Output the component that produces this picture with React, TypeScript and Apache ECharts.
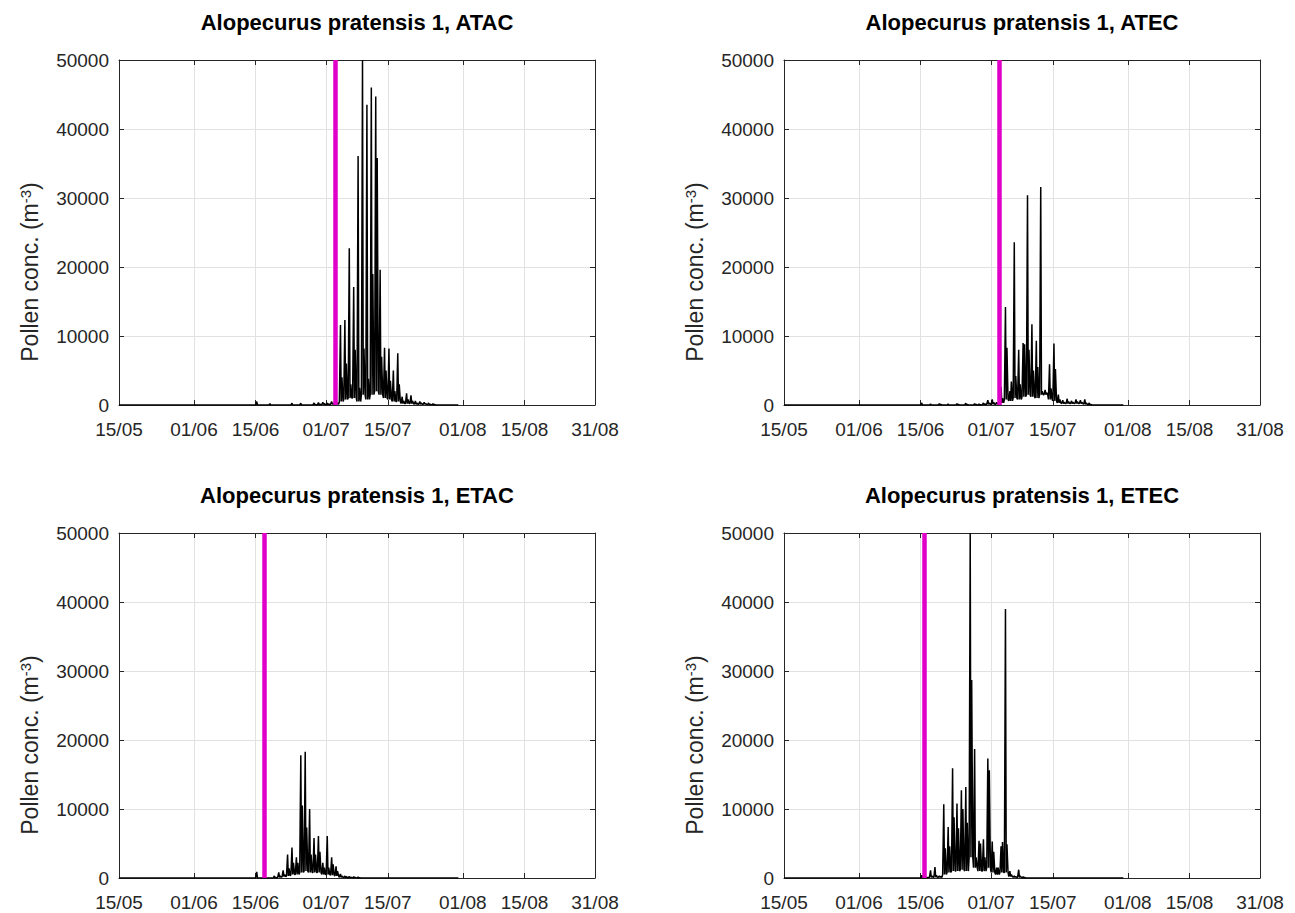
import React, { useEffect, useRef } from "react";
import * as echarts from "echarts";

const YEAR = 2019;
const X_START = "05-15";
const X_END = "08-31";
const xTickDates = ["05-15", "06-01", "06-15", "07-01", "07-15", "08-01", "08-15", "08-31"];
const Y_MAX = 50000;
const Y_STEP = 10000;

const panelTitles = [
  "Alopecurus pratensis 1, ATAC",
  "Alopecurus pratensis 1, ATEC",
  "Alopecurus pratensis 1, ETAC",
  "Alopecurus pratensis 1, ETEC",
];

// ATAC (top-left): day, main daily peak, secondary peak, trough
const atacDays = ["06-15", "06-18", "06-23", "06-25", "06-28", "06-29", "06-30", "07-01", "07-02", "07-03", "07-04", "07-05", "07-06", "07-07", "07-08", "07-09", "07-10", "07-11", "07-12", "07-13", "07-14", "07-15", "07-16", "07-17", "07-18", "07-19", "07-20", "07-21", "07-22", "07-23", "07-24", "07-25"];
const atacPeak = [500, 200, 250, 250, 300, 350, 400, 300, 500, 600, 11600, 12300, 22700, 17100, 36100, 50000, 43500, 46000, 44700, 19600, 8300, 8200, 5000, 7500, 1200, 1700, 1400, 600, 500, 400, 300, 200];
const atacSecond = [0, 0, 0, 0, 100, 150, 200, 150, 200, 300, 4000, 6000, 3000, 8000, 2500, 8200, 3800, 19000, 35800, 7000, 5000, 3500, 2000, 3000, 600, 800, 600, 300, 300, 200, 100, 100];
const atacLow = [0, 0, 0, 0, 0, 0, 50, 50, 100, 100, 500, 800, 1000, 1000, 500, 1500, 800, 1500, 2000, 1500, 1000, 800, 500, 500, 200, 200, 200, 100, 100, 100, 50, 0];

// ATEC (top-right)
const atecDays = ["06-15", "06-17", "06-19", "06-21", "06-23", "06-25", "06-27", "06-28", "06-29", "06-30", "07-01", "07-02", "07-03", "07-04", "07-05", "07-06", "07-07", "07-08", "07-09", "07-10", "07-11", "07-12", "07-13", "07-14", "07-15", "07-16", "07-17", "07-18", "07-19", "07-20", "07-21", "07-22", "07-23"];
const atecPeak = [300, 150, 200, 150, 200, 250, 200, 150, 300, 700, 800, 400, 2650, 14200, 2000, 23600, 8000, 9000, 30400, 11700, 9300, 31600, 2200, 5900, 8900, 1500, 700, 900, 600, 800, 700, 800, 300];
const atecSecond = [0, 0, 100, 0, 100, 100, 100, 50, 150, 300, 400, 200, 1000, 8300, 3400, 4200, 3000, 8800, 8000, 5000, 5500, 2000, 1800, 2400, 5200, 800, 400, 500, 400, 500, 400, 300, 100];
const atecLow = [0, 0, 0, 0, 0, 0, 0, 0, 50, 100, 100, 100, 300, 800, 600, 1000, 800, 1200, 1500, 1200, 1000, 1500, 1500, 800, 600, 300, 200, 200, 200, 200, 200, 100, 0];

// ETAC (bottom-left)
const etacDays = ["06-15", "06-19", "06-20", "06-21", "06-22", "06-23", "06-24", "06-25", "06-26", "06-27", "06-28", "06-29", "06-30", "07-01", "07-02", "07-03", "07-04", "07-05", "07-06", "07-07", "07-08"];
const etacPeak = [900, 300, 800, 1100, 3400, 4400, 3000, 17800, 18300, 10000, 5800, 6100, 2200, 6100, 3000, 1700, 600, 300, 200, 200, 150];
const etacSecond = [0, 100, 300, 500, 1400, 2200, 2200, 10500, 7300, 3400, 3400, 3800, 1500, 1500, 2000, 1000, 300, 200, 100, 100, 50];
const etacLow = [0, 0, 100, 200, 300, 500, 500, 800, 1000, 800, 800, 800, 500, 500, 400, 300, 100, 50, 50, 0, 0];

// ETEC (bottom-right)
const etecDays = ["06-15", "06-17", "06-18", "06-19", "06-20", "06-21", "06-22", "06-23", "06-24", "06-25", "06-26", "06-27", "06-28", "06-29", "06-30", "07-01", "07-02", "07-03", "07-04", "07-05", "07-06", "07-07", "07-08"];
const etecPeak = [400, 1100, 1600, 300, 10700, 7400, 15900, 10800, 12700, 13200, 50000, 18700, 5400, 5600, 17300, 5300, 1500, 4600, 39000, 1000, 300, 1200, 200];
const etecSecond = [0, 300, 400, 200, 4300, 4600, 8800, 7200, 10000, 8000, 28700, 3000, 5000, 3000, 15600, 3800, 1500, 5200, 4900, 500, 200, 300, 100];
const etecLow = [0, 100, 100, 100, 500, 800, 1000, 1000, 1200, 1000, 3000, 1500, 1000, 1000, 1500, 800, 500, 800, 800, 200, 100, 100, 0];

const seriesEndDates = ["07-31", "07-31", "07-31", "07-31"];

// magenta onset marker for each panel (date, hour)
const onsetDates = ["07-03", "07-02", "06-17", "06-15"];
const onsetHours = [0, 21, 0, 19];

const gridLefts = [119, 784, 119, 784];
const gridTops = [60, 60, 533, 533];
const GRID_W = 476;
const GRID_H = 345;

const FONT = "'Liberation Sans', Arial, Helvetica, sans-serif";
const AXIS_COLOR = "#262626";
const GRID_COLOR = "#e2e2e2";
const ONSET_COLOR = "#e100c8";

function ts(md: string, h = 0): number {
  const [m, d] = md.split("-").map(Number);
  return Date.UTC(YEAR, m - 1, d, h);
}

function fmtDate(v: number): string {
  const dt = new Date(v);
  const dd = String(dt.getUTCDate()).padStart(2, "0");
  const mm = String(dt.getUTCMonth() + 1).padStart(2, "0");
  return dd + "/" + mm;
}

function buildPoints(days: string[], peak: number[], second: number[], low: number[], end: string) {
  const pts: [number, number][] = [[ts(X_START), 0]];
  days.forEach((d, i) => {
    pts.push([ts(d, 0), low[i]]);
    pts.push([ts(d, 6), peak[i]]);
    pts.push([ts(d, 10), low[i]]);
    pts.push([ts(d, 14), second[i]]);
    pts.push([ts(d, 20), low[i]]);
  });
  pts.push([ts(end), 0]);
  return pts;
}

const panelData = [
  buildPoints(atacDays, atacPeak, atacSecond, atacLow, seriesEndDates[0]),
  buildPoints(atecDays, atecPeak, atecSecond, atecLow, seriesEndDates[1]),
  buildPoints(etacDays, etacPeak, etacSecond, etacLow, seriesEndDates[2]),
  buildPoints(etecDays, etecPeak, etecSecond, etecLow, seriesEndDates[3]),
];

export default function App() {
  const ref = useRef<HTMLDivElement>(null);
  useEffect(() => {
    if (!ref.current) return;
    const chart = echarts.init(ref.current, undefined, { renderer: "svg" });
    const xMin = ts(X_START);
    const xMax = ts(X_END);
    const tickVals = xTickDates.map((d) => ts(d));

    const grids: any[] = [];
    const xAxes: any[] = [];
    const yAxes: any[] = [];
    const series: any[] = [];
    const graphics: any[] = [];

    for (let i = 0; i < 4; i++) {
      grids.push({ left: gridLefts[i], top: gridTops[i], width: GRID_W, height: GRID_H, containLabel: false });
      xAxes.push({
        type: "value",
        gridIndex: i,
        position: "bottom",
        min: xMin,
        max: xMax,
        axisLine: { show: true, onZero: false, lineStyle: { color: AXIS_COLOR, width: 1 } },
        axisTick: { show: true, inside: true, length: 5, customValues: tickVals, lineStyle: { color: AXIS_COLOR } },
        axisLabel: {
          show: true,
          customValues: tickVals,
          formatter: (v: number) => fmtDate(v),
          fontFamily: FONT,
          fontSize: 19,
          color: AXIS_COLOR,
          margin: 15,
          showMinLabel: true,
          showMaxLabel: true,
          hideOverlap: false,
        },
        splitLine: { show: true, lineStyle: { color: GRID_COLOR, width: 1 } },
      });
      xAxes.push({
        type: "value",
        gridIndex: i,
        position: "top",
        min: xMin,
        max: xMax,
        axisLine: { show: true, onZero: false, lineStyle: { color: AXIS_COLOR, width: 1 } },
        axisTick: { show: true, inside: true, length: 5, customValues: tickVals, lineStyle: { color: AXIS_COLOR } },
        axisLabel: { show: false },
        splitLine: { show: false },
      });
      yAxes.push({
        type: "value",
        gridIndex: i,
        position: "left",
        min: 0,
        max: Y_MAX,
        interval: Y_STEP,
        axisLine: { show: true, onZero: false, lineStyle: { color: AXIS_COLOR, width: 1 } },
        axisTick: { show: true, inside: true, length: 5, lineStyle: { color: AXIS_COLOR } },
        axisLabel: {
          fontFamily: FONT,
          fontSize: 19,
          color: AXIS_COLOR,
          margin: 10,
          formatter: (v: number) => String(v),
        },
        splitLine: { show: true, lineStyle: { color: GRID_COLOR, width: 1 } },
      });
      yAxes.push({
        type: "value",
        gridIndex: i,
        position: "right",
        min: 0,
        max: Y_MAX,
        interval: Y_STEP,
        axisLine: { show: true, onZero: false, lineStyle: { color: AXIS_COLOR, width: 1 } },
        axisTick: { show: true, inside: true, length: 5, lineStyle: { color: AXIS_COLOR } },
        axisLabel: { show: false },
        splitLine: { show: false },
      });

      series.push({
        type: "line",
        xAxisIndex: i * 2,
        yAxisIndex: i * 2,
        data: panelData[i],
        showSymbol: false,
        symbol: "none",
        clip: true,
        lineStyle: { color: "#000000", width: 1.5 },
        z: 3,
        markLine: {
          silent: true,
          symbol: ["none", "none"],
          label: { show: false },
          lineStyle: { color: ONSET_COLOR, width: 4.5, type: "solid" },
          data: [{ xAxis: ts(onsetDates[i], onsetHours[i]) }],
          z: 4,
        },
      });

      graphics.push({
        type: "text",
        x: gridLefts[i] + GRID_W / 2,
        y: gridTops[i] - 38,
        style: {
          text: panelTitles[i],
          fontFamily: FONT,
          fontWeight: "bold",
          fontSize: 22,
          fill: "#000000",
          align: "center",
          verticalAlign: "middle",
        },
      });
      graphics.push({
        type: "text",
        x: gridLefts[i] - 89,
        y: gridTops[i] + 212,
        rotation: Math.PI / 2,
        style: {
          text: "{a|Pollen conc. (m}{s|-3}{a|)}",
          align: "center",
          verticalAlign: "middle",
          fill: AXIS_COLOR,
          rich: {
            a: { fontFamily: FONT, fontSize: 23, fill: AXIS_COLOR, color: AXIS_COLOR },
            s: { fontFamily: FONT, fontSize: 15, fill: AXIS_COLOR, color: AXIS_COLOR, verticalAlign: "top", padding: [0, 0, 10, 0] },
          },
        },
      });
    }

    chart.setOption({
      animation: false,
      backgroundColor: "#ffffff",
      grid: grids,
      xAxis: xAxes,
      yAxis: yAxes,
      series,
      graphic: graphics,
    });
    return () => chart.dispose();
  }, []);

  return (
    <div
      ref={ref}
      style={{ position: "fixed", left: 0, top: 0, width: 1295, height: 913, background: "#fff" }}
    />
  );
}
